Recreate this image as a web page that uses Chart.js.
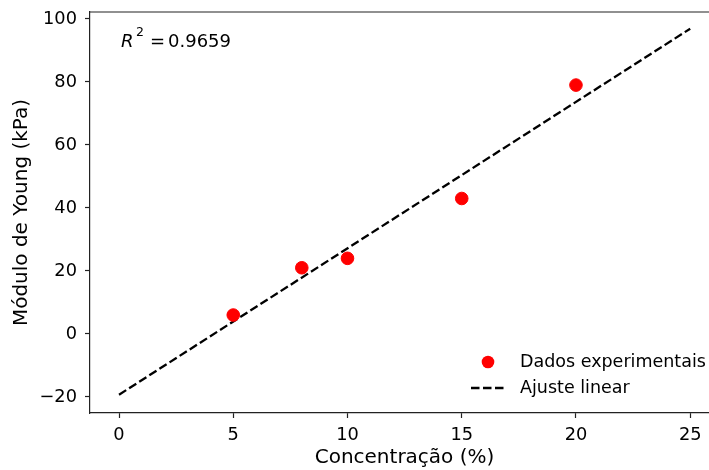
<!DOCTYPE html>
<html>
<head>
<meta charset="utf-8">
<script src="https://cdn.jsdelivr.net/npm/chart.js@4"></script>
<style>
  body { margin: 0; overflow: hidden; background: #fff; }
  #wrap { width: 709px; height: 470px; overflow: hidden; }
  canvas { display: block; }
</style>
</head>
<body>
<div id="wrap"><canvas id="myChart" width="730" height="470"></canvas></div>
<script>
// data
var concentracao = [5, 8, 10, 15, 20];
var modulo = [6, 21, 24, 43, 79];
// end points of the fitted line
var ajusteX = [0, 25];
var ajusteY = [-19.3, 96.9];
var r2Text = "0.9659";
var xTicks = [0, 5, 10, 15, 20, 25];
var yTicks = [-20, 0, 20, 40, 60, 80, 100];

var font = "'DejaVu Sans', sans-serif";
var dash = [8.5, 3.5];

var pontos = concentracao.map(function (x, i) { return { x: x, y: modulo[i] }; });
var linha = ajusteX.map(function (x, i) { return { x: x, y: ajusteY[i] }; });

// top frame line, legend and R2 text
var extras = {
  id: "extras",
  afterDraw: function (chart) {
    var ctx = chart.ctx;
    var a = chart.chartArea;
    ctx.save();
    ctx.strokeStyle = "#222";
    ctx.lineWidth = 1.2;
    ctx.beginPath();
    ctx.moveTo(a.left, a.top);
    ctx.lineTo(a.right, a.top);
    ctx.stroke();

    // R^2 label
    ctx.fillStyle = "#000";
    ctx.textBaseline = "alphabetic";
    var x0 = 121, y0 = 47;
    ctx.font = "italic 18px " + font;
    ctx.fillText("R", x0, y0);
    ctx.font = "12.5px " + font;
    ctx.fillText("2", x0 + 15, y0 - 11);
    ctx.font = "18px " + font;
    ctx.fillText("=", x0 + 29, y0);
    ctx.fillText(r2Text, x0 + 47, y0);

    // legend
    ctx.font = "17.5px " + font;
    ctx.textBaseline = "middle";
    ctx.fillStyle = "#ff0000";
    ctx.beginPath();
    ctx.arc(488, 362, 6.3, 0, Math.PI * 2);
    ctx.fill();
    ctx.fillStyle = "#000";
    ctx.fillText(chart.data.datasets[0].label, 520, 362);
    ctx.strokeStyle = "#000";
    ctx.lineWidth = 2.3;
    ctx.setLineDash(dash);
    ctx.beginPath();
    ctx.moveTo(471, 388);
    ctx.lineTo(506, 388);
    ctx.stroke();
    ctx.setLineDash([]);
    ctx.fillText(chart.data.datasets[1].label, 520, 388);
    ctx.restore();
  }
};

var ctx = document.getElementById("myChart").getContext("2d");
var myChart = new Chart(ctx, {
  type: "scatter",
  data: {
    datasets: [
      {
        label: "Dados experimentais",
        data: pontos,
        backgroundColor: "#ff0000",
        borderColor: "#ff0000",
        pointRadius: 6.3,
        pointHoverRadius: 6.3,
        order: 1
      },
      {
        label: "Ajuste linear",
        type: "line",
        data: linha,
        borderColor: "#000",
        borderWidth: 2.3,
        borderDash: dash,
        pointRadius: 0,
        fill: false,
        order: 2
      }
    ]
  },
  options: {
    responsive: false,
    animation: false,
    layout: { padding: { top: 12, right: 11, left: 0, bottom: 0 } },
    plugins: {
      legend: { display: false },
      tooltip: { enabled: false }
    },
    scales: {
      x: {
        type: "linear",
        min: -1.27,
        max: 26.26,
        afterFit: function (s) {
          s.height = 57;
          s.paddingLeft = 0;
          s.paddingRight = 0;
        },
        afterBuildTicks: function (s) { s.ticks = xTicks.map(function (v) { return { value: v }; }); },
        grid: { drawOnChartArea: false, tickLength: 5, tickColor: "#222", tickWidth: 1.2 },
        border: { color: "#222", width: 1.2 },
        ticks: {
          color: "#000",
          font: { family: font, size: 17.8 },
          padding: 7,
          maxRotation: 0
        },
        title: {
          display: true,
          text: "Concentração (%)",
          color: "#000",
          font: { family: font, size: 20 },
          padding: { top: 0, bottom: 0 }
        }
      },
      y: {
        min: -25.1,
        max: 102.2,
        afterFit: function (s) {
          s.width = 90;
          s.paddingTop = 0;
          s.paddingBottom = 0;
        },
        afterBuildTicks: function (s) { s.ticks = yTicks.map(function (v) { return { value: v }; }); },
        grid: { drawOnChartArea: false, tickLength: 5, tickColor: "#222", tickWidth: 1.2 },
        border: { color: "#222", width: 1.2 },
        ticks: {
          color: "#000",
          font: { family: font, size: 17.8 },
          padding: 8,
          callback: function (v) { return String(v).replace("-", "\u2212"); }
        },
        title: {
          display: true,
          text: "Módulo de Young (kPa)",
          color: "#000",
          font: { family: font, size: 20 },
          padding: { top: 10, bottom: 0 }
        }
      }
    }
  },
  plugins: [extras]
});
</script>
</body>
</html>
